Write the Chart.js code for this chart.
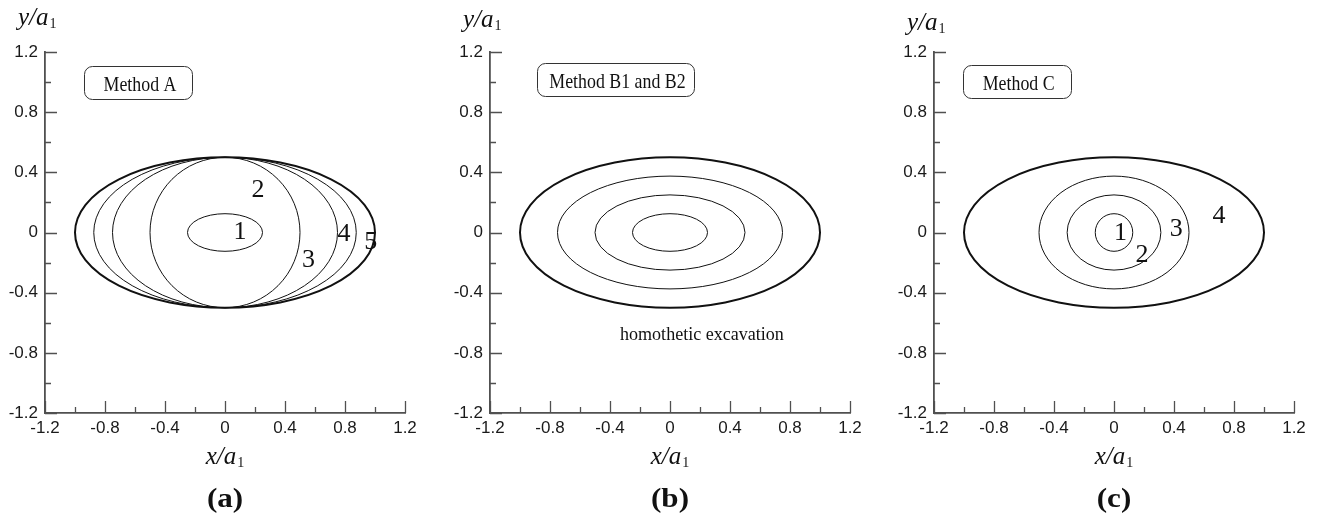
<!DOCTYPE html>
<html>
<head>
<meta charset="utf-8">
<script src="https://cdn.jsdelivr.net/npm/chart.js@4.4.1/dist/chart.umd.min.js"></script>
<style>
  html, body { margin: 0; padding: 0; background: #fff; }
  #wrap { position: relative; width: 1320px; height: 515px; overflow: hidden; }
  .panel { position: absolute; top: 0; width: 430px; height: 515px; }
</style>
</head>
<body>
<div id="wrap">
  <div class="panel" style="left:0"><canvas id="chartA" width="430" height="515"></canvas></div>
  <div class="panel" style="left:445px"><canvas id="chartB" width="430" height="515"></canvas></div>
  <div class="panel" style="left:889px"><canvas id="chartC" width="430" height="515"></canvas></div>
</div>
<script>
// axes, in units of a1
const axisMin = -1.2;
const axisMax = 1.2;
const tickStep = 0.2;

// Method A: excavation stages 1..5, semi-axes of each contour
const semiXA = [0.25, 0.5, 0.75, 0.875, 1.0];
const semiYA = [0.125, 0.5, 0.5, 0.5, 0.5];
const tagA = ['1', '2', '3', '4', '5'];
const tagXA = [0.10, 0.22, 0.557, 0.793, 0.972];
const tagYA = [0.0, 0.284, -0.187, -0.01, -0.065];

// Method B1 and B2: homothetic contours
const semiXB = [0.25, 0.5, 0.75, 1.0];
const semiYB = [0.125, 0.25, 0.375, 0.5];

// Method C
const semiXC = [0.125, 0.3125, 0.5, 1.0];
const semiYC = [0.125, 0.25, 0.375, 0.5];
const tagC = ['1', '2', '3', '4'];
const tagXC = [0.043, 0.187, 0.415, 0.70];
const tagYC = [-0.005, -0.153, 0.02, 0.107];

const axisColor = '#505050';
const inkColor = '#111';

const isMajor = v => Math.abs(Math.round(v * 10)) % 4 === 0;
const fmtTick = v => Math.abs(v) < 1e-9 ? '0' : v.toFixed(1);

// contours are drawn through the chart's own x/y scales
const contourPlugin = {
    id: 'contours',
    afterDatasetsDraw(chart, args, opts) {
        const { ctx, scales: { x, y } } = chart;
        const cx = x.getPixelForValue(0), cy = y.getPixelForValue(0);
        ctx.save();
        ctx.strokeStyle = inkColor;
        opts.semiX.forEach((a, i) => {
            const rx = x.getPixelForValue(a) - cx;
            const ry = cy - y.getPixelForValue(opts.semiY[i]);
            ctx.beginPath();
            ctx.ellipse(cx, cy, rx, ry, 0, 0, Math.PI * 2);
            ctx.lineWidth = i === opts.semiX.length - 1 ? 2 : 1;
            ctx.stroke();
        });
        ctx.restore();
    }
};

// inward tick marks
const tickPlugin = {
    id: 'innerTicks',
    afterDraw(chart) {
        const { ctx, chartArea: area, scales: { x, y } } = chart;
        ctx.save();
        ctx.strokeStyle = axisColor;
        ctx.lineWidth = 1.3;
        ctx.beginPath();
        x.ticks.forEach(t => {
            const px = Math.round(x.getPixelForValue(t.value)) + 0.5;
            ctx.moveTo(px, area.bottom);
            ctx.lineTo(px, area.bottom - (isMajor(t.value) ? 12 : 6));
        });
        y.ticks.forEach(t => {
            const py = Math.round(y.getPixelForValue(t.value)) + 0.5;
            ctx.moveTo(area.left, py);
            ctx.lineTo(area.left + (isMajor(t.value) ? 12 : 6), py);
        });
        ctx.stroke();
        ctx.restore();
    }
};

function italicWithSub(ctx, txt, sub, px, py, align) {
    ctx.font = 'italic 25px "Liberation Serif"';
    const w = ctx.measureText(txt).width;
    ctx.font = '14px "Liberation Serif"';
    const ws = ctx.measureText(sub).width;
    let left = align === 'center' ? px - (w + ws + 1) / 2 : px;
    ctx.textAlign = 'left';
    ctx.font = 'italic 25px "Liberation Serif"';
    ctx.fillText(txt, left, py);
    ctx.font = '14px "Liberation Serif"';
    ctx.fillText(sub, left + w + 1, py + 3);
}

// labels, method box, axis titles
const textPlugin = {
    id: 'panelText',
    afterDraw(chart, args, opts) {
        const { ctx, chartArea: area, scales: { x, y } } = chart;
        ctx.save();
        ctx.fillStyle = inkColor;
        ctx.textBaseline = 'alphabetic';

        italicWithSub(ctx, 'y/a', '1', area.left - 27, opts.yTitleBase, 'left');
        italicWithSub(ctx, 'x/a', '1', x.getPixelForValue(0), area.bottom + 51, 'center');

        ctx.save();
        ctx.translate(x.getPixelForValue(0), area.bottom + 94);
        ctx.scale(1.15, 1);
        ctx.font = 'bold 27px "Liberation Serif"';
        ctx.textAlign = 'center';
        ctx.fillText(opts.panel, 0, 0);
        ctx.restore();

        // method box
        const b = opts.box;
        const bx0 = x.getPixelForValue(b.x0), bx1 = x.getPixelForValue(b.x1);
        const by0 = y.getPixelForValue(b.y0), by1 = y.getPixelForValue(b.y1);
        ctx.beginPath();
        ctx.roundRect(Math.round(bx0) + 0.5, Math.round(by0) + 0.5, Math.round(bx1 - bx0), Math.round(by1 - by0), 8);
        ctx.strokeStyle = '#333';
        ctx.lineWidth = 1;
        ctx.stroke();
        ctx.save();
        ctx.translate((bx0 + bx1) / 2 + 2, by1 - 8);
        ctx.scale(0.85, 1);
        ctx.font = '21px "Liberation Serif"';
        ctx.textAlign = 'center';
        ctx.fillText(b.text, 0, 0);
        ctx.restore();

        // contour numbers
        ctx.font = '26px "Liberation Serif"';
        ctx.textAlign = 'center';
        ctx.textBaseline = 'middle';
        opts.tags.forEach((t, i) => {
            ctx.fillText(t, x.getPixelForValue(opts.tagX[i]), y.getPixelForValue(opts.tagY[i]));
        });
        if (opts.note) {
            ctx.save();
            ctx.translate(x.getPixelForValue(opts.note.x), y.getPixelForValue(opts.note.y));
            ctx.scale(0.95, 1);
            ctx.font = '19px "Liberation Serif"';
            ctx.fillText(opts.note.text, 0, 0);
            ctx.restore();
        }
        ctx.restore();
    }
};

function axisOptions(isX) {
    return {
        type: 'linear',
        min: axisMin,
        max: axisMax,
        grid: { display: false, drawTicks: false },
        border: { display: true, color: axisColor, width: 1.8 },
        ticks: {
            stepSize: tickStep,
            autoSkip: false,
            maxRotation: 0,
            padding: isX ? 5 : 7,
            color: '#1a1a1a',
            font: { family: 'Liberation Sans', size: 17 },
            callback: v => isMajor(v) ? fmtTick(v) : ''
        },
        afterFit: s => { if (isX) s.height = 40; else s.width = 45; }
    };
}

function makePanel(id, cfg) {
    return new Chart(document.getElementById(id), {
        type: 'scatter',
        data: { datasets: [] },
        options: {
            responsive: false,
            devicePixelRatio: 1,
            animation: false,
            events: [],
            layout: { padding: { left: 0, top: 52, right: 25, bottom: 62 } },
            scales: { x: axisOptions(true), y: axisOptions(false) },
            plugins: {
                legend: { display: false },
                tooltip: { enabled: false },
                contours: { semiX: cfg.semiX, semiY: cfg.semiY },
                panelText: cfg.text
            }
        },
        plugins: [contourPlugin, tickPlugin, textPlugin]
    });
}

makePanel('chartA', {
    semiX: semiXA, semiY: semiYA,
    text: {
        panel: '(a)', yTitleBase: 25,
        box: { text: 'Method A', x0: -0.94, x1: -0.22, y0: 1.107, y1: 0.887 },
        tags: tagA, tagX: tagXA, tagY: tagYA
    }
});

makePanel('chartB', {
    semiX: semiXB, semiY: semiYB,
    text: {
        panel: '(b)', yTitleBase: 27,
        box: { text: 'Method B1 and B2', x0: -0.887, x1: 0.16, y0: 1.127, y1: 0.907 },
        tags: [], tagX: [], tagY: [],
        note: { text: 'homothetic excavation', x: 0.213, y: -0.68 }
    }
});

makePanel('chartC', {
    semiX: semiXC, semiY: semiYC,
    text: {
        panel: '(c)', yTitleBase: 30,
        box: { text: 'Method C', x0: -1.009, x1: -0.289, y0: 1.113, y1: 0.893 },
        tags: tagC, tagX: tagXC, tagY: tagYC
    }
});
</script>
</body>
</html>
